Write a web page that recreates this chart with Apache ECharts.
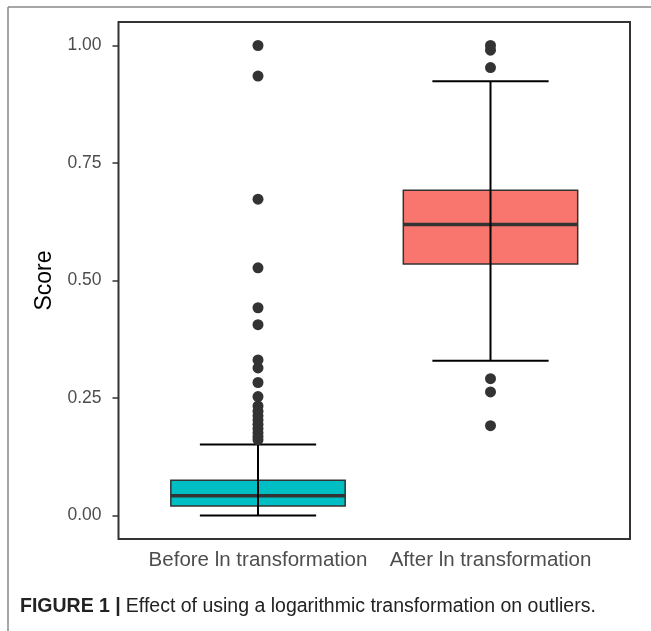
<!DOCTYPE html>
<html>
<head>
<meta charset="utf-8">
<script src="https://cdn.jsdelivr.net/npm/echarts@6/dist/echarts.min.js"></script>
<style>
  html, body { margin: 0; padding: 0; background: #fff; }
  #chart { width: 651px; height: 631px; }
</style>
</head>
<body>
<div id="chart"></div>
<script>
// box statistics, one entry per category
const categories = ['Before ln transformation', 'After ln transformation'];
const whiskerLow = [0.0, 0.329];
const q1 = [0.020, 0.535];
const medians = [0.042, 0.619];
const q3 = [0.075, 0.692];
const whiskerHigh = [0.151, 0.924];

// outliers
const beforeOutliers = [1.0, 0.935, 0.673, 0.527, 0.442, 0.406, 0.331, 0.314, 0.283, 0.253,
  0.233, 0.222, 0.212, 0.203, 0.194, 0.185, 0.176, 0.168, 0.161];
const afterOutliers = [1.0, 0.99, 0.953, 0.291, 0.263, 0.191];

const yTicks = [0, 0.25, 0.5, 0.75, 1];
const boxColors = ['#00BFC4', '#F8766D'];

const boxData = categories.map((c, i) => [i + 1, whiskerLow[i], q1[i], medians[i], q3[i], whiskerHigh[i]]);
const outlierData = beforeOutliers.map(v => [1, v]).concat(afterOutliers.map(v => [2, v]));

const renderBox = (params, api) => {
  const x = api.value(0);
  const low = api.coord([x, api.value(1)]);
  const bq1 = api.coord([x, api.value(2)]);
  const med = api.coord([x, api.value(3)]);
  const bq3 = api.coord([x, api.value(4)]);
  const high = api.coord([x, api.value(5)]);
  const boxW = api.size([0.75, 0])[0];
  const capW = api.size([0.5, 0])[0];
  const cx = low[0];
  return {
    type: 'group',
    children: [
      {
        type: 'rect',
        shape: { x: cx - boxW / 2, y: bq3[1], width: boxW, height: bq1[1] - bq3[1] },
        style: { fill: boxColors[params.dataIndex], stroke: '#333333', lineWidth: 1.5 },
      },
      {
        type: 'line',
        shape: { x1: cx - boxW / 2, y1: med[1], x2: cx + boxW / 2, y2: med[1] },
        style: { stroke: '#333333', lineWidth: 3.5 },
      },
      {
        type: 'line',
        shape: { x1: cx, y1: low[1], x2: cx, y2: high[1] },
        style: { stroke: '#000', lineWidth: 2 },
      },
      {
        type: 'line',
        shape: { x1: cx - capW / 2, y1: low[1], x2: cx + capW / 2, y2: low[1] },
        style: { stroke: '#000', lineWidth: 2 },
      },
      {
        type: 'line',
        shape: { x1: cx - capW / 2, y1: high[1], x2: cx + capW / 2, y2: high[1] },
        style: { stroke: '#000', lineWidth: 2 },
      },
    ],
  };
};

const option = {
  backgroundColor: '#fff',
  animation: false,
  title: {
    left: 20,
    top: 597,
    padding: 0,
    text: '{b|FIGURE 1 |} {n|Effect of using a logarithmic transformation on outliers.}',
    textStyle: {
      rich: {
        b: { fontFamily: 'Liberation Sans', fontWeight: 'bold', fontSize: 19.5, color: '#222' },
        n: { fontFamily: 'Liberation Sans', fontWeight: 'normal', fontSize: 19.5, color: '#222' },
      },
    },
  },
  grid: {
    left: 118.5,
    right: 21,
    top: 22,
    bottom: 92,
    show: true,
    borderColor: '#333333',
    borderWidth: 2,
  },
  xAxis: {
    type: 'value',
    min: 0.4,
    max: 2.6,
    axisLine: { show: false },
    axisTick: { show: false },
    splitLine: { show: false },
    axisLabel: {
      customValues: [1, 2],
      formatter: v => categories[Math.round(v) - 1],
      fontFamily: 'Liberation Sans',
      fontSize: 20.5,
      color: '#4D4D4D',
      margin: 11,
    },
  },
  yAxis: {
    type: 'value',
    min: -0.05,
    max: 1.05,
    name: 'Score',
    nameLocation: 'middle',
    nameGap: 60,
    nameTextStyle: { fontFamily: 'Liberation Sans', fontSize: 23, color: '#000' },
    axisLine: { show: false },
    splitLine: { show: false },
    axisTick: {
      show: true,
      customValues: yTicks,
      length: 6,
      lineStyle: { color: '#333333', width: 1.5 },
    },
    axisLabel: {
      customValues: yTicks,
      formatter: v => v.toFixed(2),
      fontFamily: 'Liberation Sans',
      fontSize: 17.5,
      color: '#4D4D4D',
      margin: 17,
    },
  },
  graphic: [
    { type: 'line', shape: { x1: 8, y1: 7, x2: 8, y2: 631 }, style: { stroke: '#888', lineWidth: 1.5 } },
    { type: 'line', shape: { x1: 8, y1: 7, x2: 651, y2: 7 }, style: { stroke: '#888', lineWidth: 1.5 } },
  ],
  series: [
    {
      type: 'custom',
      renderItem: renderBox,
      data: boxData,
      encode: { x: 0, y: [1, 2, 3, 4, 5] },
      z: 2,
    },
    {
      type: 'scatter',
      data: outlierData,
      symbolSize: 11,
      itemStyle: { color: '#333333', opacity: 1 },
      z: 3,
    },
  ],
};

const myChart = echarts.init(document.getElementById('chart'));
myChart.setOption(option);
</script>
</body>
</html>
